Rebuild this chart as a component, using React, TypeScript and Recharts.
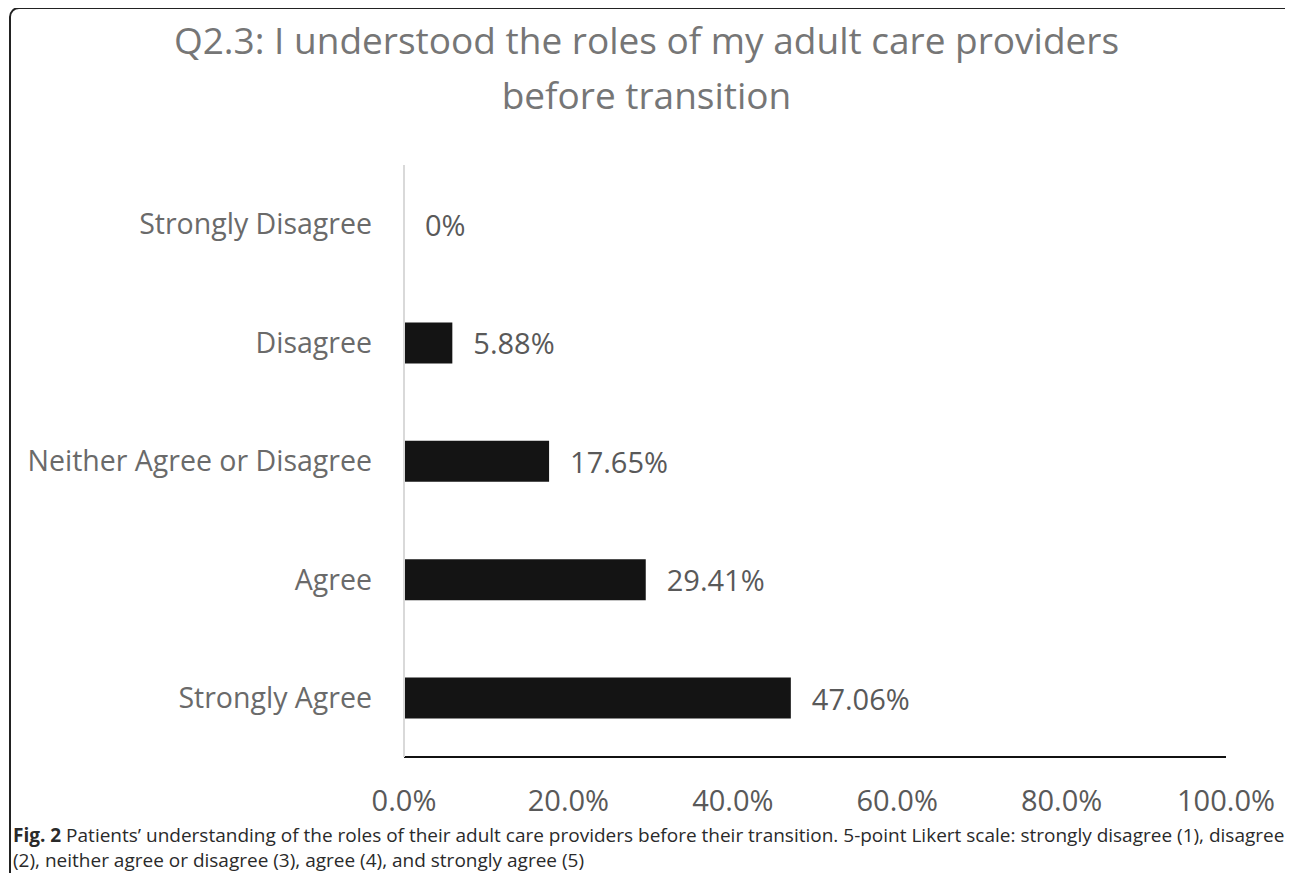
import React from 'react';
import { BarChart, Bar, XAxis, YAxis, LabelList, Cell } from 'recharts';

const categories = ['Strongly Disagree', 'Disagree', 'Neither Agree or Disagree', 'Agree', 'Strongly Agree'];
const percents = [0, 5.88, 17.65, 29.41, 47.06];
const xTicks = [0, 20, 40, 60, 80, 100];

const titleLines = ['Q2.3: I understood the roles of my adult care providers', 'before transition'];

const data = categories.map((name, i) => ({ name, value: percents[i] }));

const font = '"Open Sans", sans-serif';

const fmtValue = (v: number) => (v === 0 ? '0%' : `${v.toFixed(2)}%`);

function ValueLabel(props: any) {
  const { x, y, width, height, value } = props;
  if (value == null) return null;
  const v = Number(value);
  // zero bar only exists through minPointSize, so ignore its width
  const end = Number(x) + (v === 0 ? 0 : Number(width || 0));
  return (
    <text
      x={end + 21}
      y={Number(y) + Number(height) / 2}
      dominantBaseline="central"
      fill="#595959"
      fontSize={29}
      fontFamily={font}
    >
      {fmtValue(v)}
    </text>
  );
}

export default function App() {
  return (
    <div
      style={{
        position: 'relative',
        width: 1293,
        height: 881,
        margin: -8,
        overflow: 'hidden',
        background: '#fff',
        fontFamily: font,
      }}
    >
      {/* frame round the figure */}
      <div
        style={{
          position: 'absolute',
          left: 9,
          top: 7,
          width: 1285,
          height: 876,
          border: '2px solid #222',
          borderRadius: 10,
          boxSizing: 'border-box',
        }}
      />

      <div
        style={{
          position: 'absolute',
          top: 12,
          left: 0,
          width: 1293,
          textAlign: 'center',
          color: '#767676',
          fontSize: 37,
          lineHeight: '55px',
        }}
      >
        {titleLines.map((t) => (
          <div key={t}>{t}</div>
        ))}
      </div>

      <div style={{ position: 'absolute', left: 0, top: 0 }}>
        <BarChart
          width={1293}
          height={820}
          data={data}
          layout="vertical"
          margin={{ top: 165, right: 67, bottom: 0, left: 0 }}
          barSize={41}
        >
          <XAxis
            type="number"
            domain={[0, 100]}
            ticks={xTicks}
            tickFormatter={(v) => `${v.toFixed(1)}%`}
            axisLine={{ stroke: '#111', strokeWidth: 2 }}
            tickLine={false}
            tickMargin={27}
            height={63}
            tick={{ fill: '#595959', fontSize: 29, fontFamily: font }}
            interval={0}
          />
          <YAxis
            type="category"
            dataKey="name"
            width={404}
            axisLine={{ stroke: '#d9d9d9', strokeWidth: 2 }}
            tickLine={false}
            tickMargin={26}
            tick={{ fill: '#6a6a6a', fontSize: 28.5, fontFamily: font }}
            interval={0}
          />
          <Bar dataKey="value" fill="#141414" minPointSize={1} isAnimationActive={false}>
            {data.map((d) => (
              <Cell key={d.name} fill={d.value === 0 ? 'transparent' : '#141414'} />
            ))}
            <LabelList dataKey="value" content={<ValueLabel />} />
          </Bar>
        </BarChart>
      </div>

      <div
        style={{
          position: 'absolute',
          left: 13,
          top: 823,
          color: '#2a2a2a',
          fontSize: 19,
          lineHeight: '25px',
          whiteSpace: 'nowrap',
        }}
      >
        <div>
          <b>Fig. 2</b> Patients’ understanding of the roles of their adult care providers before their transition. 5-point Likert scale: strongly disagree (1), disagree
        </div>
        <div>(2), neither agree or disagree (3), agree (4), and strongly agree (5)</div>
      </div>
    </div>
  );
}
